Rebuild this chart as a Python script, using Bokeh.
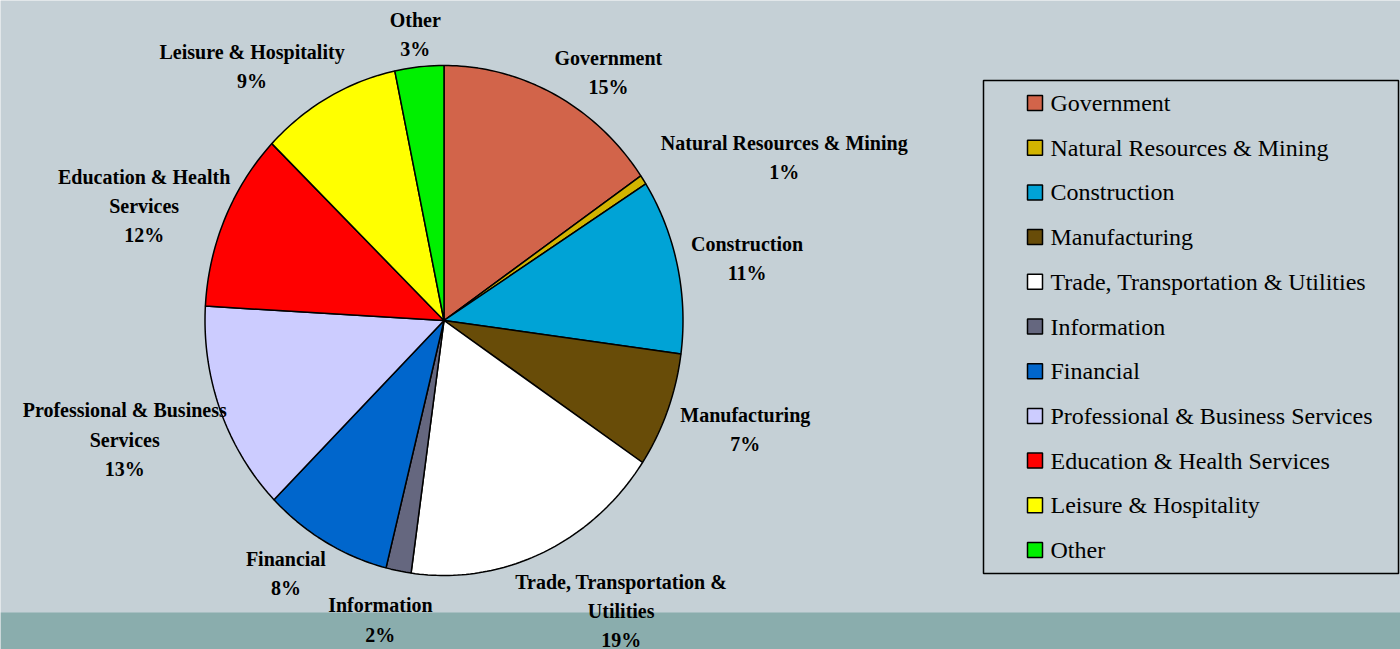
import numpy as np
from bokeh.plotting import figure
from bokeh.models import ColumnDataSource, Range1d, BoxAnnotation
from bokeh.core.properties import value
from bokeh.embed import file_html
from bokeh.resources import INLINE

# ---------------- data ----------------
sectors = ["Government", "Natural Resources & Mining", "Construction", "Manufacturing",
           "Trade, Transportation & Utilities", "Information", "Financial",
           "Professional & Business Services", "Education & Health Services",
           "Leisure & Hospitality", "Other"]
shares = [15.4, 0.6, 11.1, 7.3, 17.8, 1.7, 8.7, 13.3, 11.3, 9.5, 3.3]
pct_labels = ["15%", "1%", "11%", "7%", "19%", "2%", "8%", "13%", "12%", "9%", "3%"]
label_names = ["Government", "Natural Resources & Mining", "Construction", "Manufacturing",
               "Trade, Transportation &\nUtilities", "Information", "Financial",
               "Professional & Business\nServices", "Education & Health\nServices",
               "Leisure & Hospitality", "Other"]

# ---------------- style ----------------
colors = ["#D2644A", "#D2B400", "#00A3D6", "#684C08", "#FFFFFF", "#65677F",
          "#0066CC", "#CCCCFF", "#FF0000", "#FFFF00", "#00F000"]
BG = "#C5D0D6"
BAND = "#8AADAD"
SERIF = "Liberation Serif"

W, H = 1400, 649
CX, CY, RX, RY = 443.5, 320.0, 239.0, 255.0
LABEL_K = 1.2
label_nudges = [(31, 23), (101, 6), (23, 4), (33, 1), (60, 11), (-9, -1),
                (-16, -13), (-51, 11), (-37, 8), (-53, 14), (1, 18)]

# legend layout (pixels)
LEG_BOX = dict(left=983, right=1398, top=80, bottom=573)
LEG_SW_X, LEG_TXT_X, LEG_Y0, LEG_PITCH, LEG_SW = 1034.5, 1050, 102.5, 44.7, 15

# ---------------- geometry from data ----------------
vals = np.array(shares, dtype=float)
frac = vals / vals.sum()
ends = np.cumsum(frac) * 2 * np.pi
starts = ends - frac * 2 * np.pi

xs, ys = [], []
for a0, a1 in zip(starts, ends):
    n = max(4, int(np.degrees(a1 - a0)))
    t = np.linspace(a0, a1, n)
    xs.append([CX] + list(CX + RX * np.sin(t)))
    ys.append([CY] + list(CY - RY * np.cos(t)))

pie_src = ColumnDataSource(dict(xs=xs, ys=ys, color=colors, sector=sectors))

mids = (starts + ends) / 2
lx = [CX + LABEL_K * RX * np.sin(m) + d[0] for m, d in zip(mids, label_nudges)]
ly = [CY - LABEL_K * RY * np.cos(m) + d[1] for m, d in zip(mids, label_nudges)]
ltext = [f"{n}\n{p}" for n, p in zip(label_names, pct_labels)]
lab_src = ColumnDataSource(dict(x=lx, y=ly, text=ltext))

rows = np.arange(len(sectors))
leg_src = ColumnDataSource(dict(
    sx=[LEG_SW_X] * len(sectors), tx=[LEG_TXT_X] * len(sectors),
    y=list(LEG_Y0 + rows * LEG_PITCH), color=colors, text=sectors))

# ---------------- figure ----------------
p = figure(width=W, height=H, x_range=Range1d(0, W), y_range=Range1d(H, 0),
           output_backend="svg", toolbar_location=None, min_border=0,
           x_axis_location=None, y_axis_location=None,
           background_fill_color=BG, border_fill_color=BG, outline_line_color=None)
p.grid.visible = False

band = BoxAnnotation(top=612, bottom=H, left=0, right=W, fill_color=BAND, fill_alpha=1.0,
                     line_color=None, level="underlay")
p.add_layout(band)

p.patches("xs", "ys", source=pie_src, fill_color="color", line_color="black",
          line_width=1.5)

p.text("x", "y", text="text", source=lab_src, text_font=value(SERIF),
       text_font_style="bold", text_font_size="20px", text_align="center",
       text_baseline="middle", text_line_height=1.33, text_color="black")

frame = BoxAnnotation(**LEG_BOX, fill_alpha=0, line_color="black", line_alpha=1.0,
                      line_width=1.5)
p.add_layout(frame)

p.rect("sx", "y", width=LEG_SW, height=LEG_SW, source=leg_src, fill_color="color",
       line_color="black", line_width=1.5)
p.text("tx", "y", text="text", source=leg_src, text_font=value(SERIF),
       text_font_size="24px", text_align="left", text_baseline="middle",
       text_color="black")

open("out.html", "w").write(file_html(p, INLINE))
